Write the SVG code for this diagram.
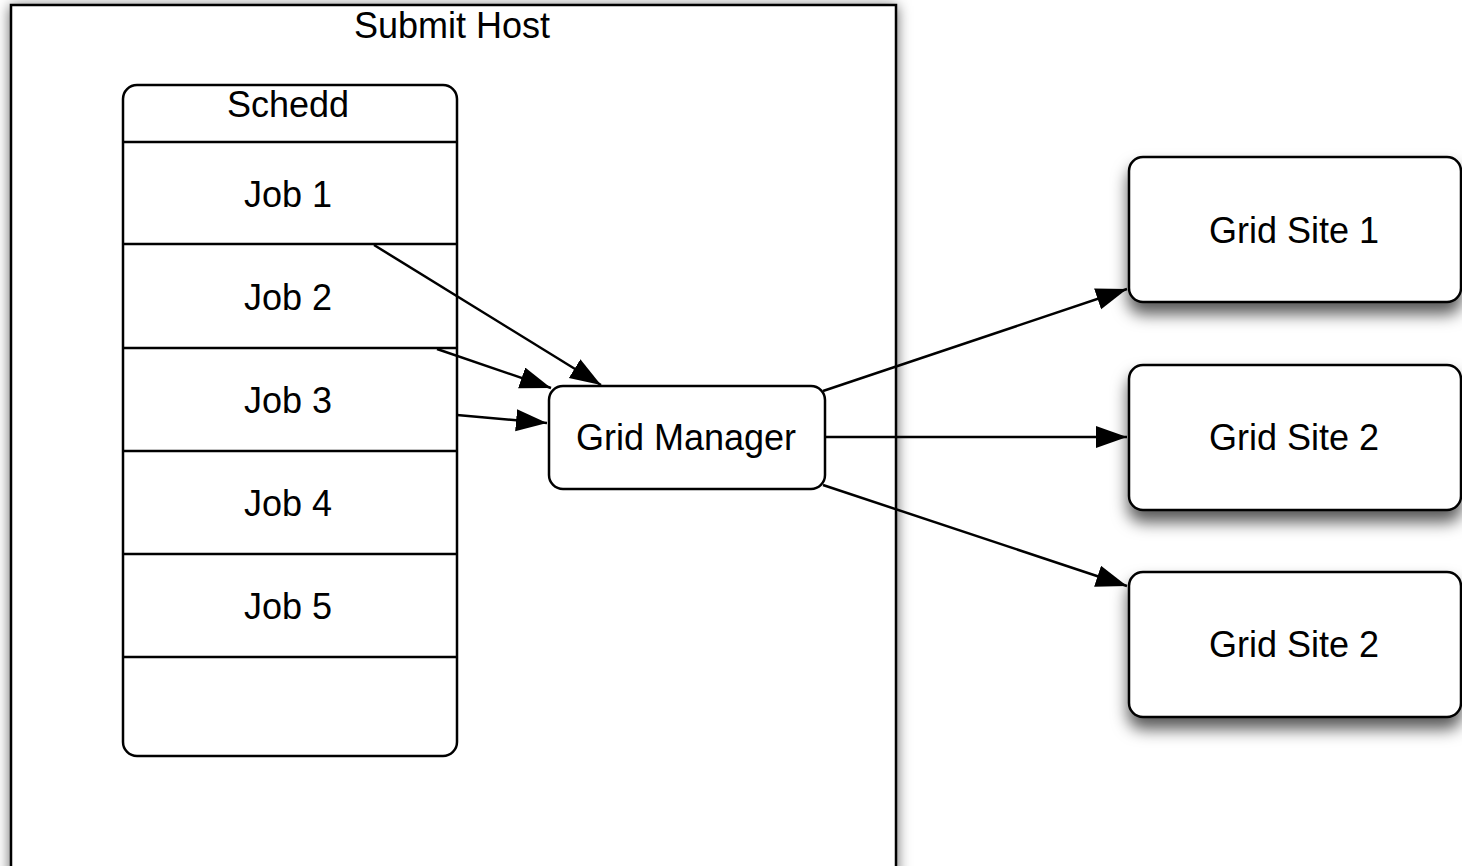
<svg xmlns="http://www.w3.org/2000/svg" width="1462" height="866" viewBox="0 0 1462 866">
<defs>
<style>
.box{fill:#fff;stroke:#000;stroke-width:2.5}
.ln{stroke:#000;stroke-width:2.5;fill:none}
.t{font-family:"Liberation Sans",Arial,sans-serif;font-size:36px;fill:#000;text-anchor:middle}
.c{stroke:#000;stroke-width:2.5;fill:none;marker-end:url(#ah)}
</style>
<filter id="sh1" x="-10%" y="-10%" width="120%" height="120%">
<feDropShadow dx="0" dy="2" stdDeviation="7" flood-color="#000" flood-opacity="0.6"/>
</filter>
<filter id="sh2" x="-20%" y="-20%" width="140%" height="170%">
<feDropShadow dx="0" dy="11" stdDeviation="8" flood-color="#000" flood-opacity="0.65"/>
</filter>
<marker id="ah" markerWidth="34" markerHeight="24" refX="31" refY="11" orient="auto" markerUnits="userSpaceOnUse">
<path d="M0,0 L31,11 L0,22 Z" fill="#000"/>
</marker>
</defs>
<rect width="1462" height="866" fill="#fff"/>
<g id="submit-host">
<rect class="box" x="11" y="5" width="885" height="880" filter="url(#sh1)"/>
<text class="t" x="452" y="38">Submit Host</text>
</g>
<g id="schedd">
<rect class="box" x="123" y="85" width="334" height="671" rx="14"/>
<line class="ln" x1="123" y1="142" x2="457" y2="142"/>
<line class="ln" x1="123" y1="244" x2="457" y2="244"/>
<line class="ln" x1="123" y1="348" x2="457" y2="348"/>
<line class="ln" x1="123" y1="451" x2="457" y2="451"/>
<line class="ln" x1="123" y1="554" x2="457" y2="554"/>
<line class="ln" x1="123" y1="657" x2="457" y2="657"/>
<text class="t" x="288" y="117">Schedd</text>
</g>
<g id="job1"><text class="t" x="288" y="207">Job 1</text></g>
<g id="job2"><text class="t" x="288" y="310">Job 2</text></g>
<g id="job3"><text class="t" x="288" y="413">Job 3</text></g>
<g id="job4"><text class="t" x="288" y="516">Job 4</text></g>
<g id="job5"><text class="t" x="288" y="619">Job 5</text></g>
<g id="grid-manager">
<rect class="box" x="549" y="386" width="276" height="103" rx="14"/>
<text class="t" x="686" y="450">Grid Manager</text>
</g>
<g id="grid-site-1">
<rect class="box" x="1129" y="157" width="332" height="145" rx="14" filter="url(#sh2)"/>
<text class="t" x="1294" y="243">Grid Site 1</text>
</g>
<g id="grid-site-2a">
<rect class="box" x="1129" y="365" width="332" height="145" rx="14" filter="url(#sh2)"/>
<text class="t" x="1294" y="450">Grid Site 2</text>
</g>
<g id="grid-site-2b">
<rect class="box" x="1129" y="572" width="332" height="145" rx="14" filter="url(#sh2)"/>
<text class="t" x="1294" y="657">Grid Site 2</text>
</g>
<g id="connectors">
<line class="c" x1="374" y1="245" x2="601" y2="385"/>
<line class="c" x1="437" y1="349" x2="551" y2="388"/>
<line class="c" x1="457" y1="415" x2="547" y2="423"/>
<line class="c" x1="823" y1="391" x2="1127" y2="289"/>
<line class="c" x1="825" y1="437" x2="1127" y2="437"/>
<line class="c" x1="823" y1="485" x2="1127" y2="586"/>
</g>
</svg>
